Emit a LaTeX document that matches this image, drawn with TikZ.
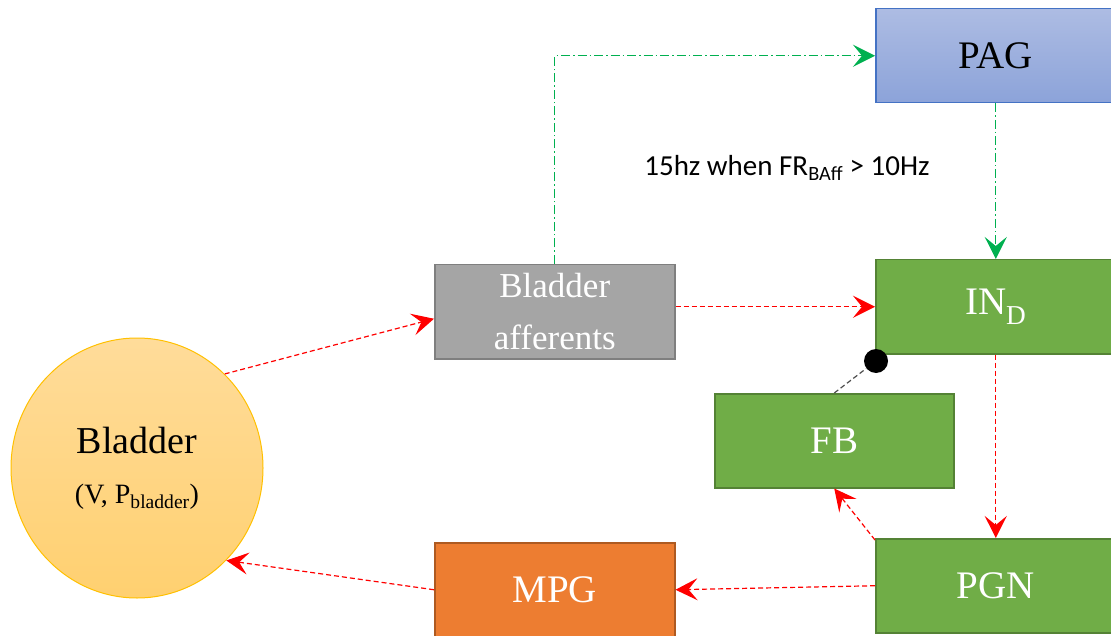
\documentclass[tikz,border=0pt]{standalone}
\usepackage{fontspec}
\setmainfont{Liberation Serif}
\newfontfamily\labfont{Carlito}
\usetikzlibrary{arrows.meta,shapes.geometric}
\definecolor{cgreen}{HTML}{70AD47}
\definecolor{cgreenb}{HTML}{548235}
\definecolor{cgray}{HTML}{A5A5A5}
\definecolor{cgrayb}{HTML}{7F7F7F}
\definecolor{corange}{HTML}{ED7D31}
\definecolor{corangeb}{HTML}{AE5A21}
\definecolor{cbluet}{HTML}{ADBCE3}
\definecolor{cblueb}{HTML}{8CA3D9}
\definecolor{cblueline}{HTML}{4472C4}
\definecolor{cyelt}{HTML}{FFDC9A}
\definecolor{cyelb}{HTML}{FFD070}
\definecolor{cyelline}{HTML}{FFC000}
\definecolor{cline}{HTML}{00B050}
\begin{document}
\begin{tikzpicture}[x=1pt,y=-1pt,
  box/.style={draw, line width=1.5pt, minimum width=240pt, minimum height=94pt,
    inner sep=0pt, text=white, anchor=north west, align=center,
    font=\fontsize{39}{40}\selectfont},
  redarrow/.style={draw=red, line width=1.2pt, dash pattern=on 5pt off 3pt,
    -{Stealth[length=22pt,width=22pt,inset=9pt]}},
  greenarrow/.style={draw=cline, line width=1.1pt, dash pattern=on 9pt off 3pt on 1.5pt off 3pt,
    -{Stealth[length=22pt,width=22pt,inset=9pt]}},
  inhib/.style={draw=black!70, line width=1.2pt, dash pattern=on 5pt off 3pt}
]
\useasboundingbox (0,0) rectangle (1111,636);

\node[box, draw=cblueline, top color=cbluet, bottom color=cblueb, text=black] (pag) at (875,8) {PAG};
\node[box, draw=cgreenb, fill=cgreen] (ind) at (875,259) {IN\textsubscript{D}};
\node[box, draw=cgreenb, fill=cgreen, minimum width=239pt] (fb) at (714,393) {FB};
\node[box, draw=cgreenb, fill=cgreen] (pgn) at (875,538) {PGN};
\node[box, draw=cgrayb, fill=cgray, font=\fontsize{35}{52}\selectfont] (baff) at (434,264) {Bladder\\afferents};
\node[box, draw=corangeb, fill=corange] (mpg) at (434,542) {MPG};

\node[ellipse, draw=cyelline, line width=1pt, top color=cyelt, bottom color=cyelb,
  minimum width=252pt, minimum height=260pt, inner sep=0pt, align=center,
  font=\fontsize{38}{50}\selectfont] (bladder) at (137,468)
  {Bladder\\{\fontsize{28}{34}\selectfont (V, P\textsubscript{bladder})}};

\node[font=\labfont\fontsize{29}{32}\selectfont, inner sep=0pt] (lab) at (787,168)
  {15hz when FR\textsubscript{BAff} > 10Hz};

\node[circle, fill=black, minimum size=24pt, inner sep=0pt] (inh) at (876,361) {};

\draw[greenarrow] (baff.north) |- (pag.west);
\draw[greenarrow] (pag.south) -- (ind.north);
\draw[redarrow] (bladder.47) -- ([yshift=-7pt]baff.west);
\draw[redarrow] (ind.west -| baff.east) -- (ind.west);
\draw[redarrow] (ind.south) -- (pgn.north);
\draw[redarrow] ([yshift=-2pt]pgn.north west) -- (fb.south);
\draw[redarrow] (pgn.west) -- (mpg.east);
\draw[redarrow] (mpg.west) -- (bladder.-46);
\draw[inhib] (fb.north) -- (inh);
\end{tikzpicture}
\end{document}
